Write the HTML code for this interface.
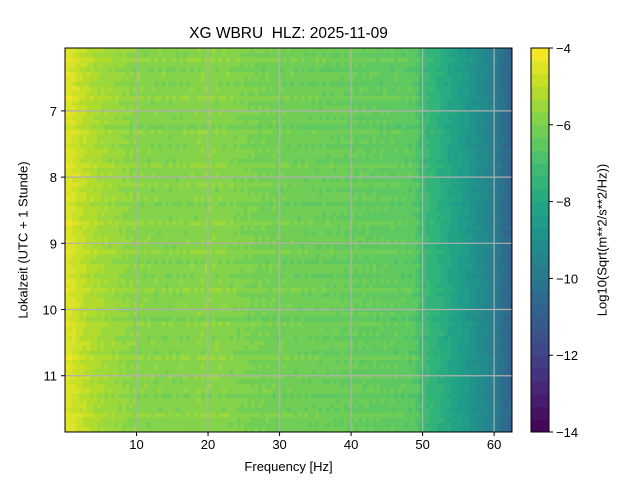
<!DOCTYPE html>
<html><head><meta charset="utf-8"><style>
body{margin:0;background:#fff;font-family:"Liberation Sans",sans-serif}
</style></head><body>
<svg id="c" width="640" height="480" xmlns="http://www.w3.org/2000/svg" font-family="Liberation Sans, sans-serif"></svg>
<script>
const freqs=[0,1,2,3,5,7.5,10,12.5,15,17.5,20,22.5,25,27.5,30,32.5,35,37.5,40,42.5,45,47.5,49,50,51,52.5,55,57.5,60,61,62.5];
const profile=[-4.4,-4.6,-4.9,-5.1,-5.4,-5.6,-5.8,-5.85,-5.9,-5.85,-5.8,-5.85,-6.0,-6.1,-6.15,-6.2,-6.25,-6.3,-6.35,-6.4,-6.45,-6.5,-6.6,-7.2,-7.4,-7.7,-8.3,-9.0,-9.7,-10.3,-10.8];
const rowOffsets=[0.1,-0.1,0.2,0,-0.15,0.15,0.05,-0.2,0.1,0,0.2,-0.1,0.05,0.15,-0.05,0.1,-0.2,0.25,0,0.1,-0.1,0.15,0.05,-0.15,0.2,0,0.1,-0.05,0.15,-0.1,0.05,0.2,-0.15,0.1,0,-0.1,0.2,0.05,-0.05,0.1];
const colNoise=[0,0.15,-0.1,0.05,-0.15,0.1,0,-0.05,0.2,-0.1,0.05,-0.2,0.1,0,0.15,-0.05,-0.1,0.05];
const xTicks=[10,20,30,40,50,60], yTicks=[7,8,9,10,11], cTicks=[-4,-6,-8,-10,-12,-14];
const X0=65,X1=512,Y0=48,Y1=432,F0=0,F1=62.5,T0=6.05,T1=11.85,V0=-14,V1=-4;
const sx=f=>X0+(f-F0)/(F1-F0)*(X1-X0), sy=t=>Y0+(t-T0)/(T1-T0)*(Y1-Y0);
const vir=[[68,1,84],[72,35,116],[64,67,135],[52,94,141],[41,120,142],[32,144,140],[34,167,132],[68,190,112],[121,209,81],[189,222,38],[253,231,37]];
function cmap(v){let u=Math.max(0,Math.min(0.9999,(v-V0)/(V1-V0)));u=(Math.floor(u*30)+0.5)/30;const p=u*10,i=Math.floor(p),f=p-i,a=vir[i],b=vir[Math.min(10,i+1)];return `rgb(${a.map((c,k)=>Math.round(c+(b[k]-c)*f)).join(',')})`;}
function prof(f){for(let i=0;i<freqs.length-1;i++){if(f<=freqs[i+1]){const r=(f-freqs[i])/(freqs[i+1]-freqs[i]);return profile[i]+(profile[i+1]-profile[i])*r;}}return profile[profile.length-1];}
const svg=document.getElementById('c');const NS='http://www.w3.org/2000/svg';
function el(t,a,p){const e=document.createElementNS(NS,t);for(const k in a)e.setAttribute(k,a[k]);(p||svg).appendChild(e);return e;}
const hm=el('g',{});


const nr=rowOffsets.length*2, df=0.5;
for(let r=0;r<nr;r++){const t0=T0+(T1-T0)*r/nr,t1=T0+(T1-T0)*(r+1)/nr;const off=rowOffsets[r%rowOffsets.length]*(r%2?0.6:1);
 for(let f=0;f<F1;f+=df){const v=prof(f+df/2)+off*(f<50?1:0.4)+colNoise[(Math.round(f/df)+r*7)%colNoise.length]*0.6;
  const c=el('rect',{x:sx(f),y:sy(t0),width:sx(f+df)-sx(f)+0.5,height:sy(t1)-sy(t0)+0.5,fill:cmap(v)},hm);
  
  }}
xTicks.forEach(v=>{const l=el('line',{x1:sx(v),x2:sx(v),y1:Y0,y2:Y1,stroke:'#b0b0b0','stroke-width':1.2});
 el('line',{x1:sx(v),x2:sx(v),y1:Y1,y2:Y1+4,stroke:'#000'});const t=el('text',{x:sx(v),y:Y1+17,'text-anchor':'middle','font-size':13});t.textContent=v;});
yTicks.forEach(v=>{const l=el('line',{x1:X0,x2:X1,y1:sy(v),y2:sy(v),stroke:'#b0b0b0','stroke-width':1.2});
 el('line',{x1:X0-4,x2:X0,y1:sy(v),y2:sy(v),stroke:'#000'});const t=el('text',{x:X0-8,y:sy(v)+5,'text-anchor':'end','font-size':13});t.textContent=v;});
el('rect',{x:X0,y:Y0,width:X1-X0,height:Y1-Y0,fill:'none',stroke:'#000','stroke-width':1});
const CX=531,CW=18;const cb=el('g',{});


for(let i=0;i<30;i++){const v0=V0+i*(V1-V0)/30;const y1=Y1-(i)*(Y1-Y0)/30,y0=Y1-(i+1)*(Y1-Y0)/30;el('rect',{x:CX,y:y0,width:CW,height:y1-y0+0.5,fill:cmap(v0+0.1)},cb);}
el('rect',{x:CX,y:Y0,width:CW,height:Y1-Y0,fill:'none',stroke:'#000'},cb);
cTicks.forEach(v=>{const y=Y1-(v-V0)/(V1-V0)*(Y1-Y0);el('line',{x1:CX+CW,x2:CX+CW+4,y1:y,y2:y,stroke:'#000'});const t=el('text',{x:CX+CW+7,y:y+5,'font-size':13});t.textContent=(v<0?'\u2212':'')+Math.abs(v);});
</script>
<div style="position:absolute;left:0;top:0;width:640px;height:480px;pointer-events:none">
<div style="position:absolute;left:65px;width:447px;top:25px;text-align:center;font-size:15.5px;white-space:pre">XG WBRU  HLZ: 2025-11-09</div>
<div style="position:absolute;left:65px;width:447px;top:459px;text-align:center;font-size:13px">Frequency [Hz]</div>
<div style="position:absolute;left:23px;top:240px;font-size:13px;white-space:nowrap;transform:translate(-50%,-50%) rotate(-90deg)">Lokalzeit (UTC + 1 Stunde)</div>
<div style="position:absolute;left:602px;top:240px;font-size:13px;white-space:nowrap;transform:translate(-50%,-50%) rotate(-90deg)">Log10(Sqrt(m**2/s**2/Hz))</div>
</div>
</body></html>
